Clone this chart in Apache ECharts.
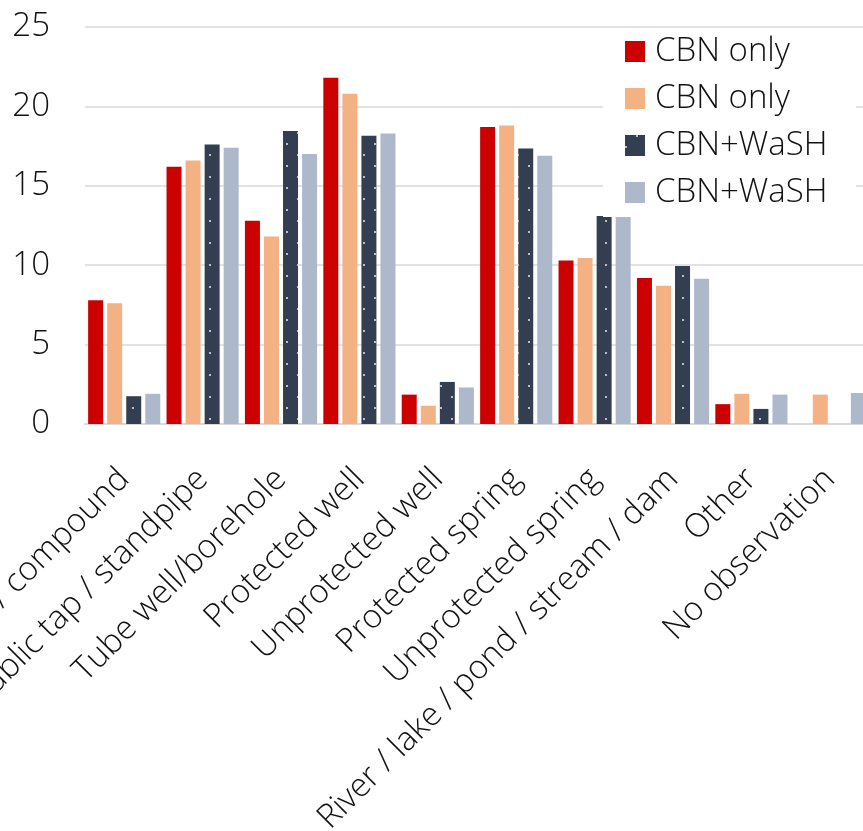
<!DOCTYPE html>
<html>
<head>
<meta charset="utf-8">
<script src="https://cdn.jsdelivr.net/npm/echarts@6/dist/echarts.min.js"></script>
<style>
  html, body { margin: 0; padding: 0; background: #ffffff; }
  #chart { width: 863px; height: 831px; }
</style>
</head>
<body>
<div id="chart"></div>
<script>
const categories = [
  'Piped into dwelling / yard / compound',
  'Public tap / standpipe',
  'Tube well/borehole',
  'Protected well',
  'Unprotected well',
  'Protected spring',
  'Unprotected spring',
  'River / lake / pond / stream / dam',
  'Other',
  'No observation'
];
const seriesNames = ['CBN only', 'CBN only ', 'CBN+WaSH', 'CBN+WaSH '];
const cbnOnlyA  = [7.8, 16.2, 12.8, 21.8, 1.85, 18.7, 10.3, 9.2, 1.25, null];
const cbnOnlyB  = [7.6, 16.6, 11.8, 20.8, 1.15, 18.8, 10.45, 8.7, 1.9, 1.85];
const cbnWashA  = [1.75, 17.6, 18.45, 18.15, 2.65, 17.35, 13.1, 9.95, 0.95, null];
const cbnWashB  = [1.9, 17.4, 17.0, 18.3, 2.3, 16.9, 13.15, 9.15, 1.85, 1.95];
const yTicks = { min: 0, max: 25, interval: 5 };

const FONT = '"Open Sans", "Noto Sans", sans-serif';
const TXT = '#111111';
const FS = 33;
const colors = ['#cc0000', '#f4b183', '#333f50', '#adb9ca'];

const chart = echarts.init(document.getElementById('chart'), null, { renderer: 'canvas' });

const dotDecal = {
  symbol: 'circle',
  symbolSize: 1,
  color: 'rgba(255,255,255,0.9)',
  dashArrayX: [[2, 20], [0, 11, 2, 9]],
  dashArrayY: [2, 8.75],
  rotation: 0
};

function mkSeries(name, data, idx, decal) {
  const s = {
    name: name,
    type: 'bar',
    data: data,
    barWidth: 15,
    barGap: '27%',
    itemStyle: { color: colors[idx] },
    emphasis: { disabled: true },
    animation: false
  };
  if (decal) s.itemStyle.decal = decal;
  return s;
}

chart.setOption({
  animation: false,
  color: colors,
  textStyle: { fontFamily: FONT },
  grid: { left: 85, top: 27, width: 784, height: 397, containLabel: false, outerBoundsMode: 'none' },
  legend: {
    orient: 'vertical',
    left: 603,
    top: 28,
    padding: [7, 20, 8, 22],
    backgroundColor: '#ffffff',
    itemWidth: 20,
    itemHeight: 21,
    itemGap: 14,
    icon: 'rect',
    selectedMode: false,
    textStyle: { fontFamily: FONT, fontSize: FS, fontWeight: 300, color: TXT, lineHeight: 33, padding: [0, 0, 0, 5] },
    data: seriesNames
  },
  xAxis: {
    type: 'category',
    data: categories,
    axisLine: { show: true, lineStyle: { color: '#d9d9d9', width: 2 } },
    axisTick: { show: false },
    axisLabel: {
      interval: 0,
      rotate: 45,
      margin: 50,
      fontFamily: FONT,
      fontSize: FS,
      fontWeight: 300,
      color: TXT
    }
  },
  yAxis: {
    type: 'value',
    min: yTicks.min,
    max: yTicks.max,
    interval: yTicks.interval,
    axisLine: { show: false },
    axisTick: { show: false },
    splitLine: { show: true, lineStyle: { color: '#d9d9d9', width: 1.5 } },
    axisLabel: { margin: 35, fontFamily: FONT, fontSize: FS, fontWeight: 300, color: TXT }
  },
  series: [
    mkSeries(seriesNames[0], cbnOnlyA, 0),
    mkSeries(seriesNames[1], cbnOnlyB, 1),
    mkSeries(seriesNames[2], cbnWashA, 2, dotDecal),
    mkSeries(seriesNames[3], cbnWashB, 3)
  ]
});
</script>
</body>
</html>
